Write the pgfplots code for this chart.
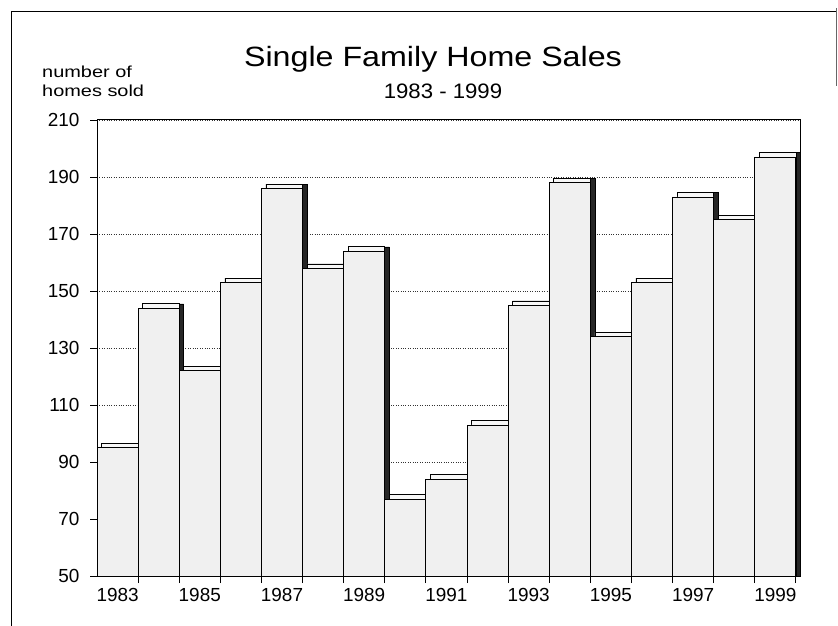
\documentclass[border=0pt]{standalone}
\usepackage{fontspec}
\setmainfont{Liberation Sans}
\usepackage{graphicx}
\usepackage{pgfplots}
\pgfplotsset{compat=1.18}
\usepackage{pgfplotstable}

\pgfplotstableread{
year v
1983 95
1984 144
1985 122
1986 153
1987 186
1988 158
1989 164
1990 77
1991 84
1992 103
1993 145
1994 188
1995 134
1996 153
1997 183
1998 175
1999 197
}\sales

\begin{document}
\begin{tikzpicture}
\useasboundingbox (0bp,0bp) rectangle (838bp,626bp);
% outer frame of the page
\draw[line width=1bp] (11bp,0bp) -- (11bp,614bp) -- (836bp,614bp);
\draw[line width=0.6bp, black!60] (836bp,618bp) -- (836bp,540bp);
% titles
\node[anchor=base] at (433bp,559bp) {\scalebox{1.155}[1]{\fontsize{28}{30}\selectfont Single Family Home Sales}};
\node[anchor=base] at (443bp,527bp) {\scalebox{1.06}[1]{\fontsize{21}{23}\selectfont 1983 - 1999}};
\node[anchor=base west, inner sep=0pt] at (42bp,548bp) {\scalebox{1.25}[1]{\fontsize{16}{18}\selectfont number of}};
\node[anchor=base west, inner sep=0pt] at (42bp,529bp) {\scalebox{1.25}[1]{\fontsize{16}{18}\selectfont homes sold}};
\begin{axis}[
  at={(97bp,50bp)}, anchor=south west,
  scale only axis, width=703bp, height=456bp,
  xmin=1982.5, xmax=1999.6, ymin=50, ymax=210,
  xtick={1983,1985,...,1999},
  xticklabels={1983,1985,1987,1989,1991,1993,1995,1997,1999},
  minor xtick={1983.5,1984.5,...,1998.5,1999.5},
  every major x tick/.append style={draw=none},
  ytick={50,70,...,210},
  tick align=outside, tick pos=left,
  major tick length=7bp, minor tick length=7bp,
  tick style={black, line width=0.8bp},
  ymajorgrids,
  major grid style={black!80, dotted, line width=0.7bp},
  axis line style={black, line width=1bp},
  /pgf/number format/assume math mode=true,
  xticklabel style={font=\fontsize{19}{19}\selectfont, yshift=-2bp},
  yticklabel style={font=\fontsize{19}{19}\selectfont, xshift=-7bp},
]
% dark right side faces
\addplot[ybar, bar width=1, bar shift=0.11, fill=black!85, draw=black, line width=0.6bp]
  table[x=year, y expr=\thisrow{v}+1.5] {\sales};
% top caps
\addplot[ybar, bar width=0.89, bar shift=0.055, fill=black!3, draw=black, line width=0.7bp]
  table[x=year, y expr=\thisrow{v}+1.5] {\sales};
% front faces
\addplot[ybar, bar width=1, bar shift=0, fill=black!6, draw=black, line width=0.8bp]
  table[x=year, y=v] {\sales};
\end{axis}
\end{tikzpicture}
\end{document}
